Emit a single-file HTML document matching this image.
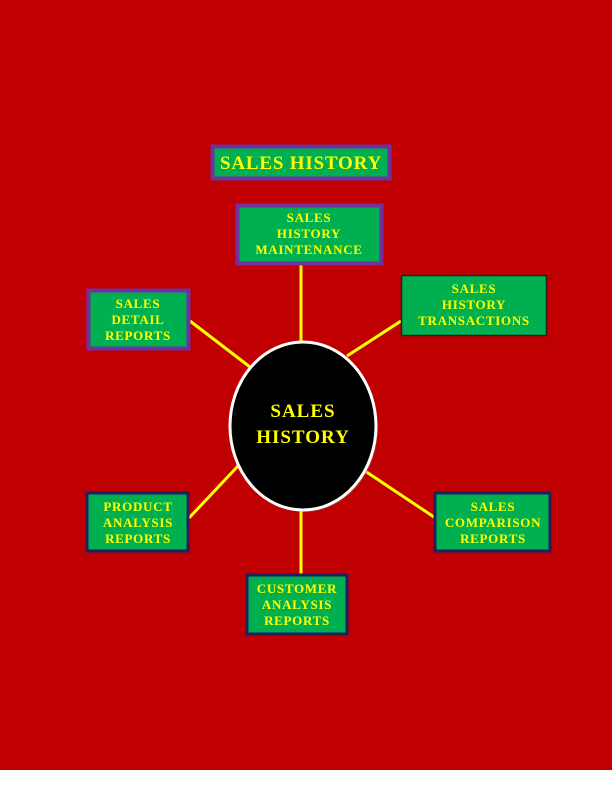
<!DOCTYPE html>
<html><head><style>
html,body{margin:0;padding:0;background:#fff;}
svg{display:block;}
text{font-family:"Liberation Serif",serif;font-weight:bold;fill:#ffff00;text-anchor:middle;letter-spacing:0.7px;}
</style></head><body>
<svg width="612" height="792" viewBox="0 0 612 792">
<rect x="0" y="0" width="612" height="770" fill="#c00000"/>
<g stroke="#ffff00" stroke-width="3">
<line x1="301" y1="265" x2="301" y2="341"/>
<line x1="190" y1="321" x2="250" y2="367"/>
<line x1="347" y1="356" x2="401" y2="321"/>
<line x1="189" y1="518" x2="238" y2="466"/>
<line x1="365" y1="471" x2="434" y2="517"/>
<line x1="301" y1="510" x2="301" y2="574"/>
</g>
<ellipse cx="305" cy="428" rx="73" ry="84" fill="#a04040" opacity="0.6"/>
<ellipse cx="303" cy="426" rx="73" ry="84" fill="#000" stroke="#fff" stroke-width="3"/>
<text x="303" y="417" font-size="19" style="letter-spacing:1px">SALES</text>
<text x="303" y="443" font-size="19" style="letter-spacing:1px">HISTORY</text>

<rect x="212.5" y="146.5" width="177" height="32" fill="#00b050" stroke="#7030a0" stroke-width="4"/>
<text x="301" y="169" font-size="19" style="letter-spacing:0.8px">SALES HISTORY</text>

<rect x="237.5" y="205.5" width="144" height="58" fill="#00b050" stroke="#7030a0" stroke-width="4"/>
<text x="309" y="222" font-size="13">SALES</text>
<text x="309" y="238" font-size="13">HISTORY</text>
<text x="309" y="254" font-size="13">MAINTENANCE</text>

<rect x="401.5" y="275.5" width="145" height="60" fill="#00b050" stroke="#222" stroke-width="1.5"/>
<text x="474" y="293" font-size="13">SALES</text>
<text x="474" y="309" font-size="13">HISTORY</text>
<text x="474" y="325" font-size="13">TRANSACTIONS</text>

<rect x="88.5" y="290.5" width="100" height="58" fill="#00b050" stroke="#7030a0" stroke-width="4"/>
<text x="138" y="308" font-size="13">SALES</text>
<text x="138" y="324" font-size="13">DETAIL</text>
<text x="138" y="340" font-size="13">REPORTS</text>

<rect x="87" y="493" width="101" height="58" fill="#00b050" stroke="#1f2060" stroke-width="3"/>
<text x="138" y="511" font-size="13">PRODUCT</text>
<text x="138" y="527" font-size="13">ANALYSIS</text>
<text x="138" y="543" font-size="13">REPORTS</text>

<rect x="435" y="493" width="115" height="58" fill="#00b050" stroke="#1f2060" stroke-width="3"/>
<text x="493" y="511" font-size="13">SALES</text>
<text x="493" y="527" font-size="13">COMPARISON</text>
<text x="493" y="543" font-size="13">REPORTS</text>

<rect x="247" y="575" width="100" height="59" fill="#00b050" stroke="#1f2060" stroke-width="3"/>
<text x="297" y="593" font-size="13">CUSTOMER</text>
<text x="297" y="609" font-size="13">ANALYSIS</text>
<text x="297" y="625" font-size="13">REPORTS</text>
</svg>
</body></html>
